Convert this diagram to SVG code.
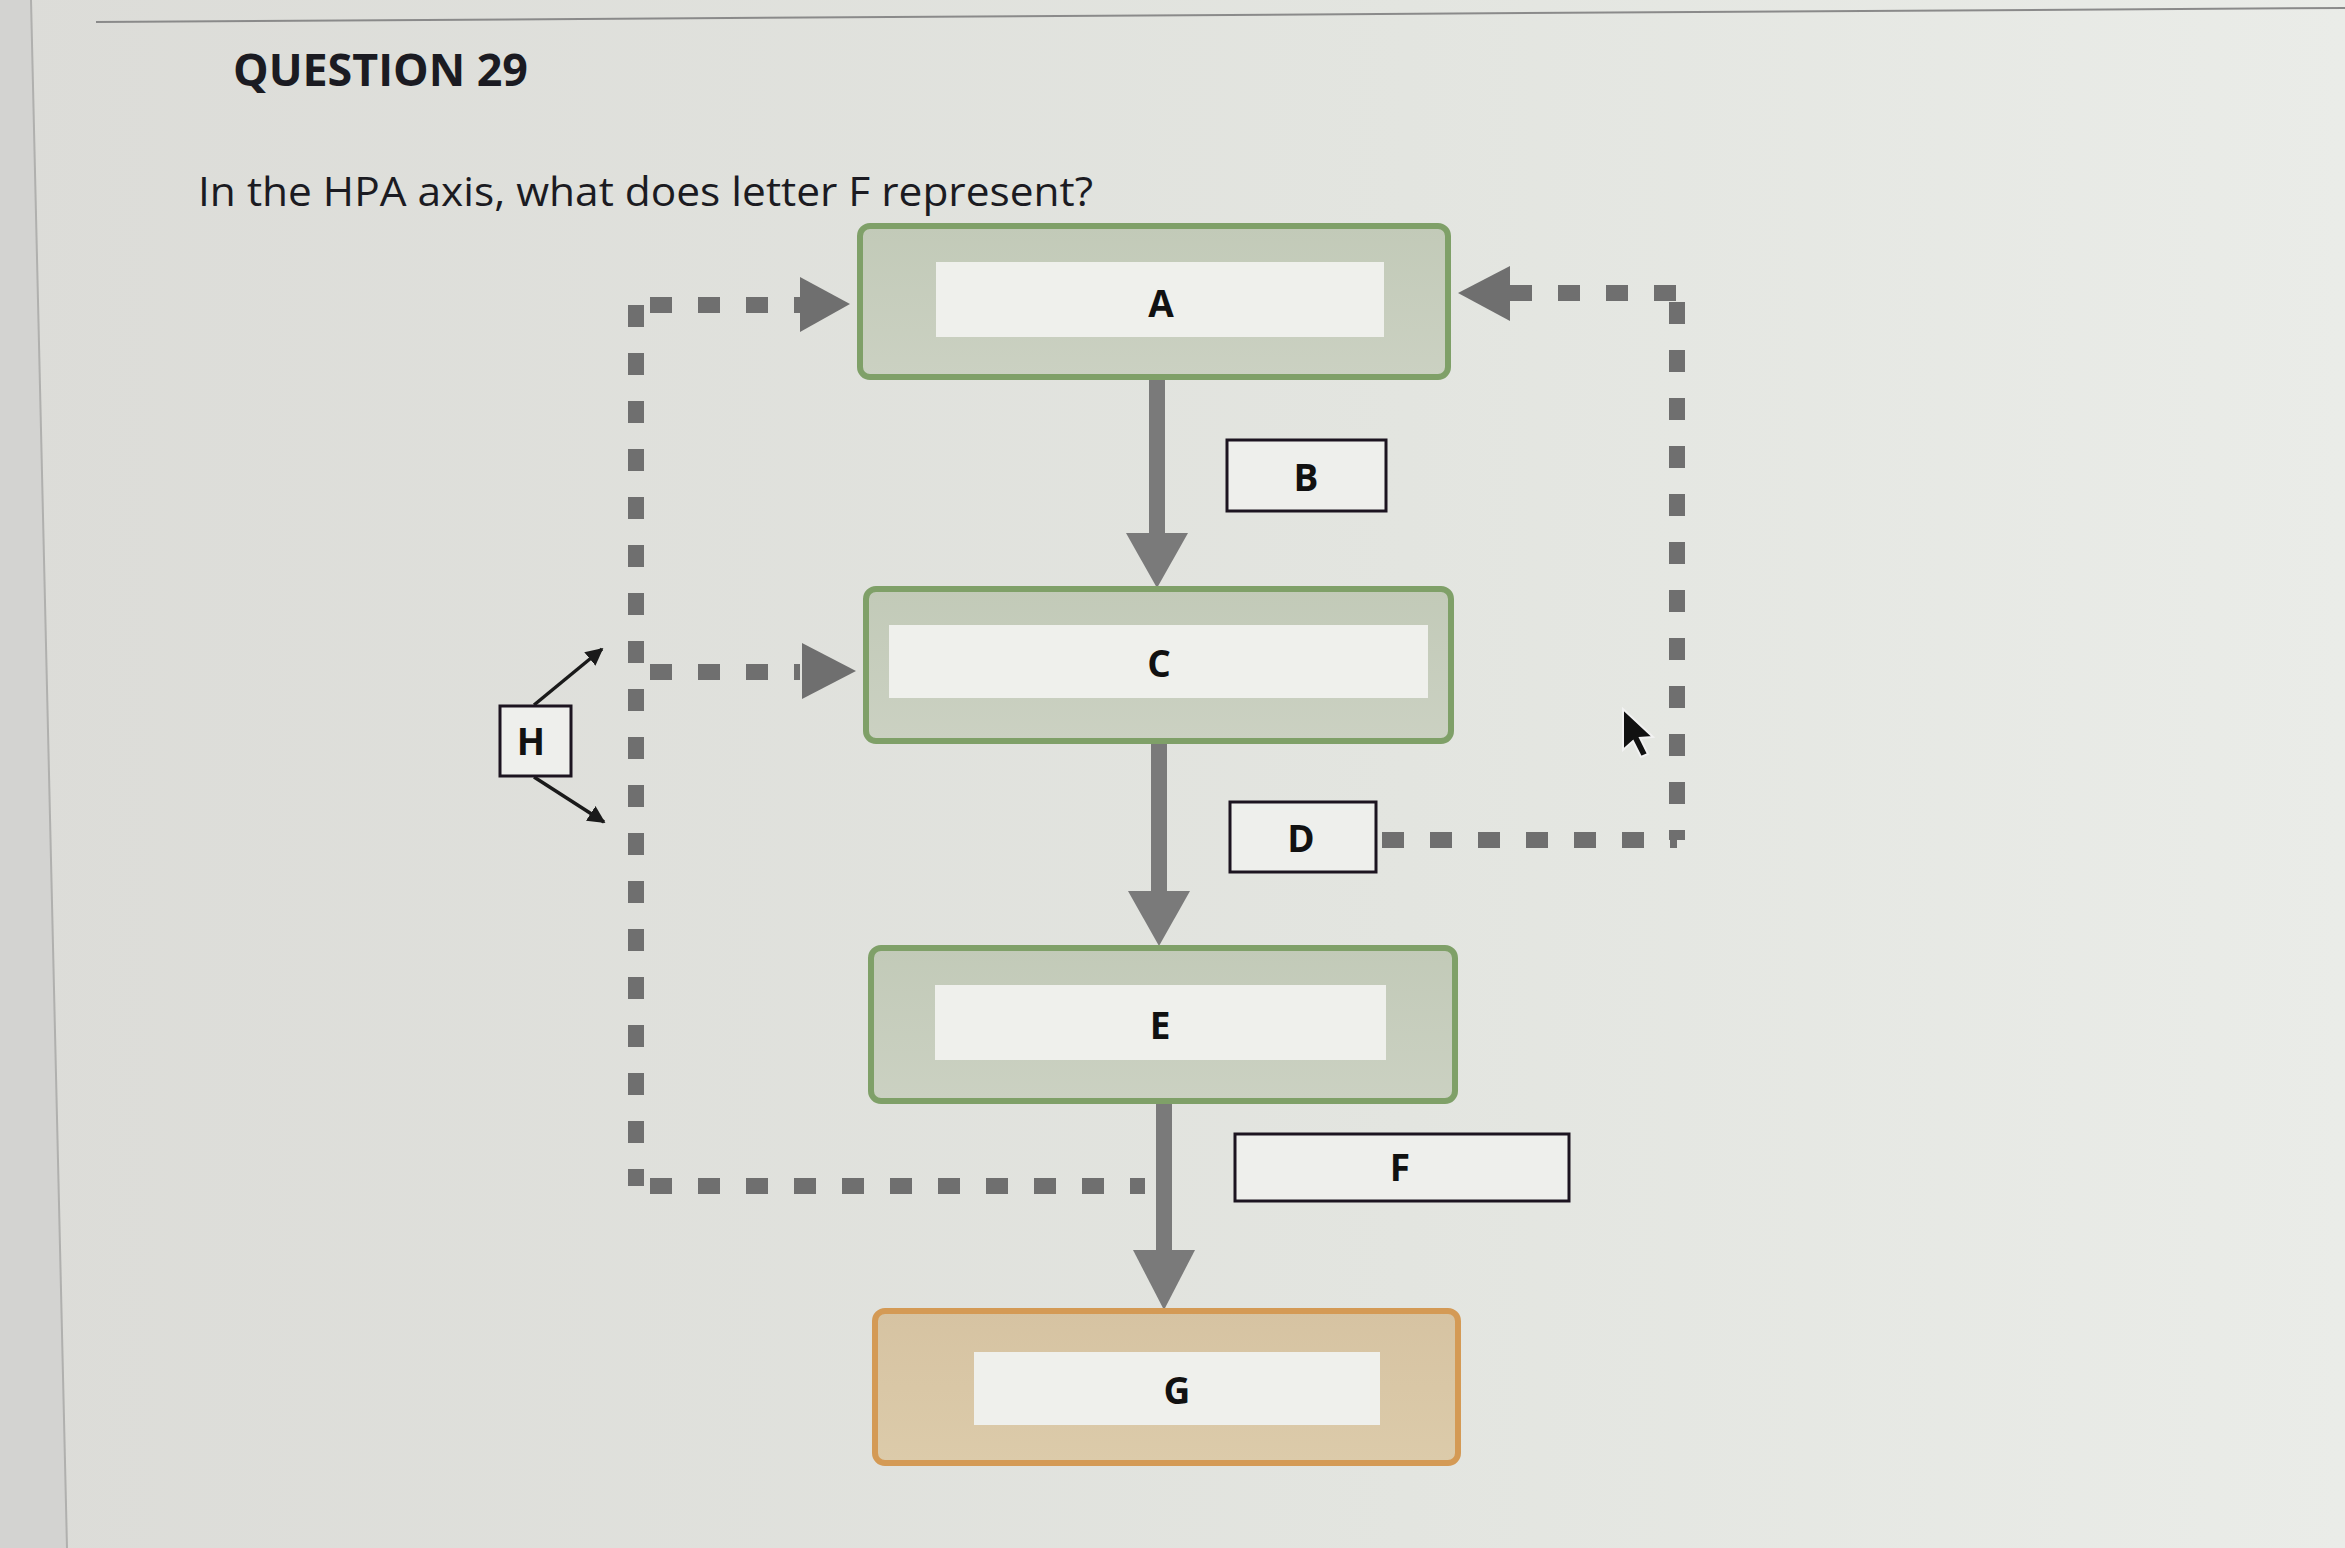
<svg xmlns="http://www.w3.org/2000/svg" width="2345" height="1548" viewBox="0 0 2345 1548">
<defs>
<linearGradient id="bg" x1="0" y1="0" x2="1" y2="0">
<stop offset="0" stop-color="#dcdcd8"/>
<stop offset="0.6" stop-color="#e3e5e0"/>
<stop offset="1" stop-color="#eaece8"/>
</linearGradient>
<linearGradient id="gbox" x1="0" y1="0" x2="0" y2="1">
<stop offset="0" stop-color="#c2cab8"/>
<stop offset="1" stop-color="#cbd1c2"/>
</linearGradient>
<linearGradient id="obox" x1="0" y1="0" x2="0" y2="1">
<stop offset="0" stop-color="#d6c3a2"/>
<stop offset="1" stop-color="#dccbaa"/>
</linearGradient>
<marker id="blk" viewBox="0 0 10 10" refX="9" refY="5" markerWidth="5" markerHeight="5" orient="auto">
<path d="M0,0 L10,5 L0,10 z" fill="#1a1a1a"/>
</marker>
</defs>
<style>
.t{font-family:"Open Sans","Liberation Sans",sans-serif;fill:#1b1b22}
.lbl{font-family:"Open Sans","Liberation Sans",sans-serif;font-weight:700;font-size:37px;fill:#111;text-anchor:middle;dominant-baseline:central}
.gout{fill:url(#gbox);stroke:#7fa068;stroke-width:6}
.oout{fill:url(#obox);stroke:#d49a55;stroke-width:6}
.inner{fill:#eff0ec}
.tag{fill:#eeefec;stroke:#1c1420;stroke-width:3}
.dash{fill:none;stroke:#6f6f6f;stroke-width:16;stroke-dasharray:22 26}
.shaft{stroke:#7a7a7a;stroke-width:16}
.head{fill:#7a7a7a}
.dhead{fill:#6f6f6f}
.thin{stroke:#1a1a1a;stroke-width:3.5;fill:none}
</style>
<rect x="0" y="0" width="2345" height="1548" fill="url(#bg)"/>
<polygon points="0,0 31,0 67,1548 0,1548" fill="#d3d3d1"/>
<line x1="31" y1="0" x2="67" y2="1548" stroke="#b0b0ae" stroke-width="2"/>
<line x1="96" y1="22" x2="2345" y2="8" stroke="#8a8a8a" stroke-width="2"/>
<text class="t" x="233" y="86" font-size="44" font-weight="700" textLength="295" lengthAdjust="spacingAndGlyphs">QUESTION 29</text>
<text class="t" x="198" y="206" font-size="40" textLength="895" lengthAdjust="spacingAndGlyphs">In the HPA axis, what does letter F represent?</text>

<g id="connectors">
<path class="dash" d="M636 305 V1186"/>
<path class="dash" d="M650 305 H800"/>
<path class="dash" d="M650 672 H800"/>
<path class="dash" d="M650 1186 H1145"/>
<polygon class="dhead" points="800,277 850,304 800,332"/>
<polygon class="dhead" points="802,643 856,671 802,699"/>
<path class="dash" d="M1677 302 V840"/>
<path class="dash" d="M1510 293 H1677"/>
<path class="dash" d="M1382 840 H1677"/>
<polygon class="dhead" points="1510,266 1458,293 1510,321"/>
<line class="shaft" x1="1157" y1="377" x2="1157" y2="536"/>
<polygon class="head" points="1126,533 1188,533 1157,588"/>
<line class="shaft" x1="1159" y1="742" x2="1159" y2="894"/>
<polygon class="head" points="1128,891 1190,891 1159,946"/>
<line class="shaft" x1="1164" y1="1101" x2="1164" y2="1253"/>
<polygon class="head" points="1133,1250 1195,1250 1164,1310"/>
<line class="thin" x1="534" y1="705" x2="602" y2="649" marker-end="url(#blk)"/>
<line class="thin" x1="534" y1="777" x2="604" y2="822" marker-end="url(#blk)"/>
</g>

<g id="nodeA">
<rect class="gout" x="860" y="226" width="588" height="151" rx="10"/>
<rect class="inner" x="936" y="262" width="448" height="75"/>
<text class="lbl" x="1161" y="302">A</text>
</g>
<g id="nodeB">
<rect class="tag" x="1227" y="440" width="159" height="71"/>
<text class="lbl" x="1306" y="476">B</text>
</g>
<g id="nodeC">
<rect class="gout" x="866" y="589" width="585" height="152" rx="10"/>
<rect class="inner" x="889" y="625" width="539" height="73"/>
<text class="lbl" x="1159" y="662">C</text>
</g>
<g id="nodeD">
<rect class="tag" x="1230" y="802" width="146" height="70"/>
<text class="lbl" x="1301" y="837">D</text>
</g>
<g id="nodeE">
<rect class="gout" x="871" y="948" width="584" height="153" rx="10"/>
<rect class="inner" x="935" y="985" width="451" height="75"/>
<text class="lbl" x="1160" y="1024">E</text>
</g>
<g id="nodeF">
<rect class="tag" x="1235" y="1134" width="334" height="67"/>
<text class="lbl" x="1400" y="1166">F</text>
</g>
<g id="nodeG">
<rect class="oout" x="875" y="1311" width="583" height="152" rx="10"/>
<rect class="inner" x="974" y="1352" width="406" height="73"/>
<text class="lbl" x="1177" y="1389">G</text>
</g>
<g id="nodeH">
<rect class="tag" x="500" y="706" width="71" height="70"/>
<text class="lbl" x="531" y="740">H</text>
</g>
<polygon points="1623,709 1623,750 1633,741 1641,757 1648,754 1640,738 1653,737" fill="#111" stroke="#f2f2f2" stroke-width="2"/>
</svg>
